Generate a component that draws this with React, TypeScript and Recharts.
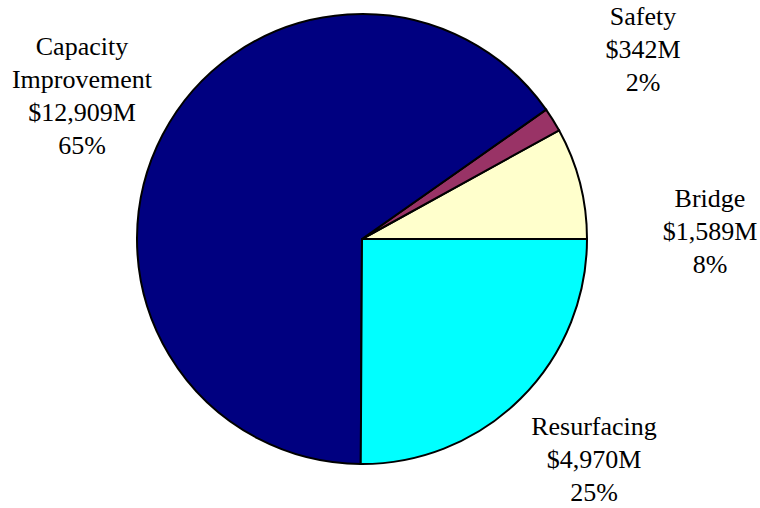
import React from "react"
import { PieChart, Pie, Cell } from "recharts"

const categories = ["Bridge", "Safety", "Capacity Improvement", "Resurfacing"]
const amounts = [1589, 342, 12909, 4970]

const colors = ["#FFFFCC", "#993366", "#000080", "#00FFFF"]

// label anchor offsets from pie centre (centre x, first baseline)
const labelOffsets = [
  { dx: 348, dy: -32 },
  { dx: 281, dy: -214 },
  { dx: -280, dy: -184 },
  { dx: 232, dy: 196 },
]

const data = categories.map((name, i) => ({ name, value: amounts[i] }))

const serif = "'Liberation Serif', 'Times New Roman', Times, serif"

const renderLabel = (props: any) => {
  const { cx, cy, index, percent, value, name } = props
  const off = labelOffsets[index]
  const lines = [...String(name).split(" "), `$${Number(value).toLocaleString("en-US")}M`, `${Math.round(percent * 100)}%`]
  return (
    <text
      x={cx + off.dx}
      y={cy + off.dy}
      textAnchor="middle"
      fill="#000"
      style={{ fontFamily: serif, fontSize: 26 }}
    >
      {lines.map((l, i) => (
        <tspan key={i} x={cx + off.dx} dy={i === 0 ? 0 : 33} style={{ fontFamily: serif }}>
          {l}
        </tspan>
      ))}
    </text>
  )
}

export default function App() {
  return (
    <div style={{ position: "absolute", left: 0, top: 0, width: 760, height: 508, background: "#fff", fontFamily: serif }}>
      <PieChart width={760} height={508} margin={{ top: 0, right: 0, bottom: 0, left: 0 }}>
        <Pie
          data={data}
          dataKey="value"
          nameKey="name"
          cx={362}
          cy={239}
          outerRadius={225}
          startAngle={0}
          endAngle={360}
          stroke="#000"
          strokeWidth={2}
          label={renderLabel}
          labelLine={false}
          isAnimationActive={false}
        >
          {data.map((d, i) => (
            <Cell key={d.name} fill={colors[i]} stroke="#000" strokeWidth={2} />
          ))}
        </Pie>
      </PieChart>
    </div>
  )
}
